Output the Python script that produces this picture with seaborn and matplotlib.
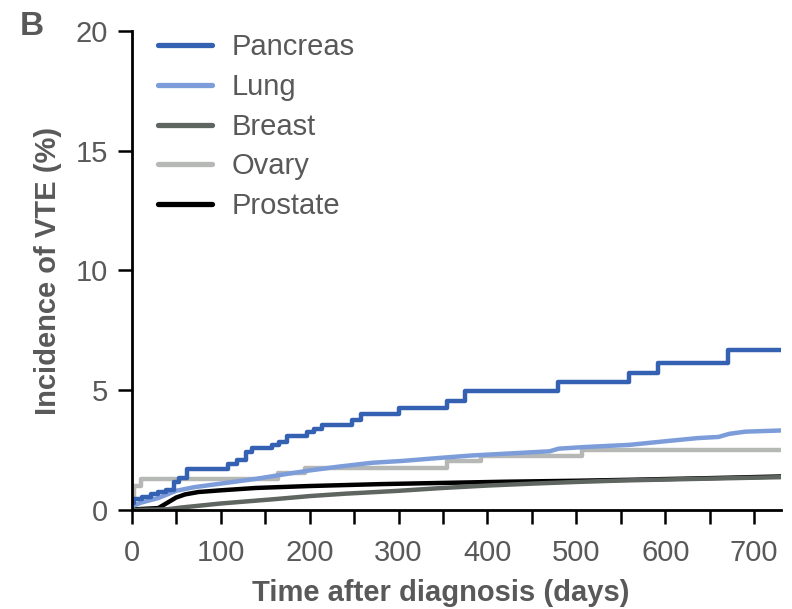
import matplotlib
matplotlib.use("Agg")
import matplotlib.pyplot as plt
import seaborn as sns
import pandas as pd

# Cumulative incidence of VTE (%) by cancer type, days after diagnosis
pancreas_days = [0, 3, 12, 22, 30, 38, 47, 53, 62, 108, 118, 128, 135, 158, 166, 175,
                 197, 205, 214, 248, 258, 300, 355, 375, 479, 559, 592, 670, 730]
pancreas_vals = [0.30, 0.45, 0.55, 0.65, 0.75, 0.85, 1.15, 1.35, 1.70, 1.90, 2.10, 2.40, 2.60, 2.70, 2.85, 3.10,
                 3.25, 3.40, 3.55, 3.75, 4.00, 4.26, 4.53, 4.95, 5.35, 5.72, 6.13, 6.66, 6.66]

lung_days = [0, 10, 30, 50, 70, 90, 110, 140, 160, 200, 235, 270, 305, 345, 380, 425,
             470, 480, 510, 560, 600, 636, 660, 672, 690, 730]
lung_vals = [0.15, 0.30, 0.50, 0.80, 0.95, 1.05, 1.15, 1.30, 1.42, 1.65, 1.82, 1.97, 2.05, 2.17, 2.27, 2.36,
             2.45, 2.56, 2.63, 2.72, 2.87, 3.00, 3.05, 3.18, 3.27, 3.32]

breast_days = [0, 40, 55, 100, 160, 200, 240, 300, 350, 400, 450, 500, 550, 600, 650, 730]
breast_vals = [0.00, 0.03, 0.10, 0.27, 0.45, 0.58, 0.68, 0.80, 0.92, 1.02, 1.10, 1.17, 1.23, 1.27, 1.31, 1.37]

ovary_days = [0, 3, 10, 165, 195, 355, 393, 506, 730]
ovary_vals = [0.55, 1.00, 1.30, 1.55, 1.77, 2.03, 2.27, 2.50, 2.50]

prostate_days = [0, 30, 40, 50, 60, 75, 100, 140, 200, 280, 350, 420, 500, 560, 650, 730]
prostate_vals = [0.02, 0.08, 0.30, 0.52, 0.65, 0.75, 0.82, 0.92, 1.00, 1.08, 1.13, 1.18, 1.22, 1.26, 1.33, 1.40]

series = [
    ("Pancreas", pancreas_days, pancreas_vals, "#3461B2", "steps-post"),
    ("Lung", lung_days, lung_vals, "#7C9DDA", "default"),
    ("Breast", breast_days, breast_vals, "#5F6560", "default"),
    ("Ovary", ovary_days, ovary_vals, "#B5B8B5", "steps-post"),
    ("Prostate", prostate_days, prostate_vals, "#000000", "default"),
]

x_ticks = list(range(0, 701, 50))
x_labels = [str(t) if t % 100 == 0 else "" for t in x_ticks]
y_ticks = [0, 5, 10, 15, 20]

sns.set_theme(style="ticks")
plt.rcParams["font.family"] = ["Liberation Sans", "DejaVu Sans"]
text_color = "#595959"

fig = plt.figure(figsize=(7.92, 6.09), dpi=100)
ax = fig.add_axes([0.1663, 0.1626, 0.8197, 0.7865])

# Draw in reverse so Pancreas sits on top
for name, days, vals, color, style in series[::-1]:
    df = pd.DataFrame({"days": days, "incidence": vals})
    sns.lineplot(data=df, x="days", y="incidence", ax=ax, color=color,
                 linewidth=3.2, drawstyle=style, estimator=None, label=name,
                 legend=False)

ax.set_xlim(0, 730)
ax.set_ylim(0, 20)
ax.set_xticks(x_ticks)
ax.set_xticklabels(x_labels)
ax.set_yticks(y_ticks)
sns.despine(ax=ax)
for side in ("left", "bottom"):
    ax.spines[side].set_linewidth(2.0)
    ax.spines[side].set_color("black")
ax.tick_params(axis="both", length=10, width=1.8, color="black",
               labelsize=21, labelcolor=text_color, direction="out")
ax.tick_params(axis="x", pad=11)
ax.tick_params(axis="y", pad=7)

ax.set_xlabel("Time after diagnosis (days)", fontsize=21, fontweight="bold",
              color=text_color)
ax.xaxis.set_label_coords(0.476, -0.145)
ax.set_ylabel("Incidence of VTE (%)", fontsize=21, fontweight="bold",
              color=text_color, labelpad=10)

handles = {l.get_label(): l for l in ax.get_lines()}
order = [s[0] for s in series]
leg = ax.legend([handles[n] for n in order], order, loc="upper left",
                bbox_to_anchor=(0.04, 0.995), frameon=False, fontsize=21,
                handlelength=1.85, handletextpad=0.68, labelspacing=0.40,
                borderpad=0, borderaxespad=0)
for t in leg.get_texts():
    t.set_color(text_color)
for l in leg.get_lines():
    l.set_linewidth(3.8)

fig.text(0.025, 0.943, "B", fontsize=24, fontweight="bold", color=text_color)

fig.savefig("out.png", dpi=100, facecolor="white")
